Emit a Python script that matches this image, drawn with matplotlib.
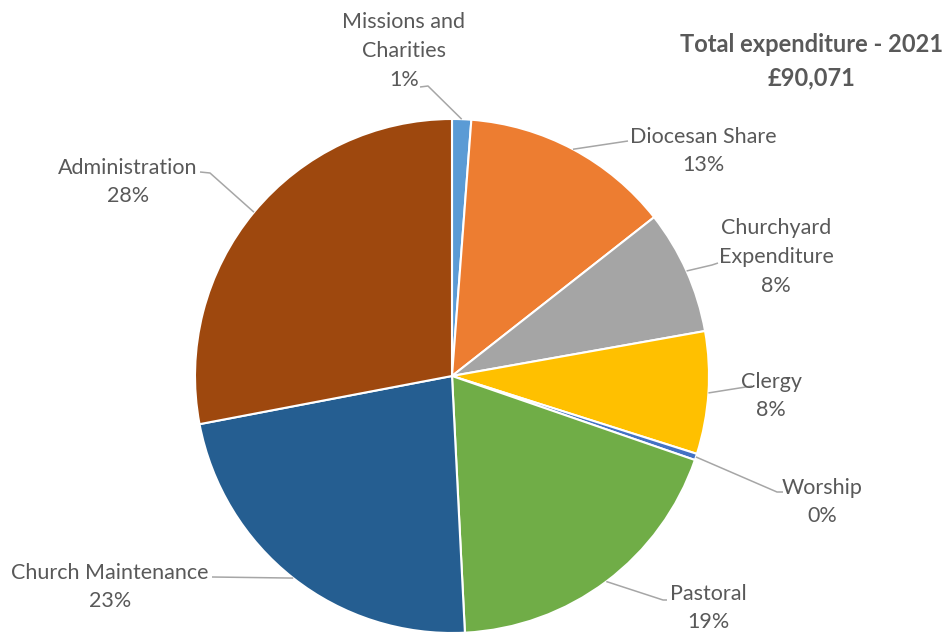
#Church expenditure 2021 pie chart
#--------------------------------------------------------
import numpy as np
import matplotlib
matplotlib.use("Agg")
import matplotlib.pyplot as plt

#Data (percent share of total)
#--------------------------------------------------------
categories = ["Missions and\nCharities", "Diocesan Share", "Churchyard\nExpenditure",
              "Clergy", "Worship", "Pastoral", "Church Maintenance", "Administration"]
shares = [1.2, 13.2, 7.8, 7.7, 0.4, 18.9, 22.8, 28.0]
colours = ["#5B9BD5", "#ED7D31", "#A5A5A5", "#FFC000",
           "#4472C4", "#70AD47", "#255E91", "#9E480E"]
title = "Total expenditure - 2021\n£90,071"

#Layout (pixel coords, y from top)
#--------------------------------------------------------
W, H = 951, 632
cx, cy, rad = 452, 376, 257
#label centre, elbow of leader, end of leader at text
lab_pos = [(404, 51), (703, 151), (776, 257), (771, 396),
           (822, 502), (708, 608), (110, 587), (128, 182)]
lead_end = [((428, 86), (420, 87)), ((628, 141), (628, 141)),
            ((712, 265), (718, 263)), ((752, 386), (752, 386)),
            ((777, 492), (783, 492)), ((663, 600), (667, 600)),
            ((212, 577), (212, 577)), ((210, 173), (200, 172))]

txt_col = "#595959"
plt.rcParams['font.family'] = ['Lato', 'DejaVu Sans']

fig = plt.figure(figsize=(W / 100, H / 100), dpi=100)
ax = fig.add_axes([0, 0, 1, 1])

wedges, _ = ax.pie(shares, colors=colours, startangle=90, counterclock=False,
                   center=(cx, H - cy), radius=rad,
                   wedgeprops=dict(edgecolor="white", linewidth=1.5))
for w in wedges:
    w.set_clip_on(False)

# pie() resets limits, so set them afterwards
ax.set_xlim(0, W)
ax.set_ylim(0, H)
ax.set_aspect('equal')
ax.axis('off')

total = sum(shares)
for i, w in enumerate(wedges):
    ang = np.deg2rad((w.theta1 + w.theta2) / 2)
    tip = (cx + rad * np.cos(ang), H - cy + rad * np.sin(ang))
    (ex, ey), (tx, ty) = lead_end[i]
    ax.plot([tip[0], ex, tx], [tip[1], H - ey, H - ty], color="#A6A6A6", lw=1.1,
            solid_capstyle='butt', clip_on=False)
    pct = "{0:.0f}%".format(shares[i] / total * 100)
    lx, ly = lab_pos[i]
    ax.text(lx, H - ly, categories[i] + "\n" + pct, ha="center", va="center",
            fontsize=15.5, color=txt_col, linespacing=1.56)

ax.text(812, H - 61, title, ha="center", va="center", fontsize=17,
        fontweight="bold", color=txt_col, linespacing=1.55)

fig.savefig("out.png", dpi=100)
